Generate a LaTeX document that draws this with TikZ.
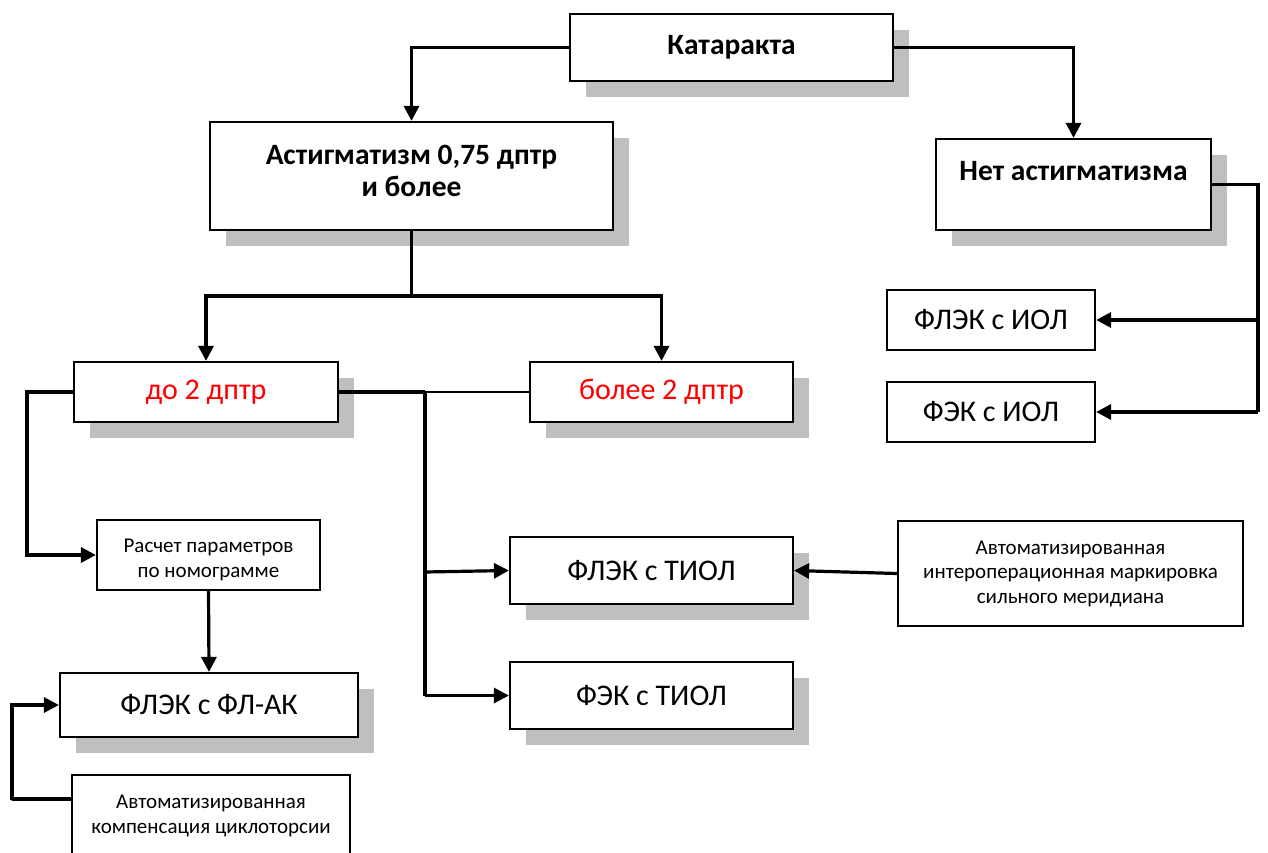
\documentclass[tikz,border=0pt]{standalone}
\usepackage{fontspec}
\setmainfont{Carlito}
\usetikzlibrary{arrows.meta,shadows}
\definecolor{shgray}{RGB}{191,191,191}
\tikzset{
  box/.style={draw=black, line width=2.2pt, fill=white, rectangle, inner sep=0pt, align=center},
  shd/.style={general shadow={fill=shgray, shadow xshift=16pt, shadow yshift=-16pt}},
  big/.style={font=\fontsize{30pt}{34pt}\selectfont},
  bigb/.style={font=\bfseries\fontsize{29.5pt}{32pt}\selectfont},
  small/.style={font=\fontsize{21pt}{24.5pt}\selectfont},
  txt/.style={inner sep=0pt, align=center},
  conn/.style={line width=3.2pt},
  thin/.style={line width=1.5pt},
  arr/.style={line width=3.2pt, -{Triangle[length=15pt,width=15pt]}},
}
\begin{document}
\begin{tikzpicture}[x=1pt,y=-1pt]
\useasboundingbox (0,0) rectangle (1268,853);
\clip (0,0) rectangle (1268,853);
% boxes
\node[box, shd, bigb, minimum width=323pt, minimum height=67pt] (kat) at (731.5,47.5) {Катаракта};
\node[box, shd, minimum width=403pt, minimum height=108pt] (ast) at (411.5,176) {};
\node[txt, bigb] (astt) at (411.5,171) {Астигматизм 0,75 дптр\\и более};
\node[box, shd, minimum width=275pt, minimum height=91pt] (net) at (1073.5,184.5) {};
\node[txt, bigb] (nett) at (1073.5,171) {Нет астигматизма};
\node[box, big, minimum width=208pt, minimum height=60pt] (fiol) at (991,320) {ФЛЭК с ИОЛ};
\node[box, big, minimum width=208pt, minimum height=60pt] (feiol) at (991,412) {ФЭК с ИОЛ};
\node[box, shd, big, text=red, minimum width=264pt, minimum height=60pt] (do2) at (206,392) {до 2 дптр};
\node[box, shd, big, text=red, minimum width=263pt, minimum height=60pt] (bol) at (661.5,392) {более 2 дптр};
\node[box, minimum width=223pt, minimum height=70pt] (ras) at (208.5,555) {};
\node[txt, small] (rast) at (208.5,560) {Расчет параметров\\по номограмме};
\node[box, shd, big, minimum width=283pt, minimum height=67pt] (ftiol) at (651.5,570.5) {ФЛЭК с ТИОЛ};
\node[box, shd, big, minimum width=283pt, minimum height=67pt] (fetiol) at (651.5,695.5) {ФЭК с ТИОЛ};
\node[box, shd, big, minimum width=298pt, minimum height=64pt] (flak) at (209,705) {ФЛЭК с ФЛ-АК};
\node[box, small, minimum width=345pt, minimum height=105pt] (intr) at (1070.5,573.5) {Автоматизированная\\интероперационная маркировка\\сильного меридиана};
\node[box, small, minimum width=278pt, minimum height=82pt] (komp) at (211,816) {Автоматизированная\\компенсация циклоторсии};
% coordinates
\coordinate (j1) at (411.5,296);
\coordinate (r1) at (1258,320);
\coordinate (r2) at (1258,412);
\coordinate (j4) at (425,392);
\coordinate (j5) at (425,572);
\coordinate (j6) at (425,695.5);
\coordinate (l1) at (27,392);
\coordinate (k1) at (12,800);
% connectors
\draw[arr] (kat.west) -| (ast.north);
\draw[arr] (kat.east) -| (net.north);
\draw[conn] (ast.south) -- (j1);
\draw[arr] (j1) -| (do2.north);
\draw[arr] (j1) -| (bol.north);
\draw[conn] (net.east) -| (r2);
\draw[arr] (r1) -- (fiol.east);
\draw[arr] (r2) -- (feiol.east);
\draw[conn] (do2.east) -- (j4);
\draw[thin] (j4) -- (bol.west);
\draw[conn] (j4) -- (j6);
\draw[arr] (j5) -- (ftiol.west);
\draw[arr] (j6) -- (fetiol.west);
\draw[arr] (do2.west) -- (l1) |- (ras.west);
\draw[arr] (ras.south) -- (flak.north);
\draw[arr] (intr.west) -- (ftiol.east);
\draw[arr] ([yshift=-25pt]komp.north west) -| (k1) |- (flak.west);
\end{tikzpicture}
\end{document}
